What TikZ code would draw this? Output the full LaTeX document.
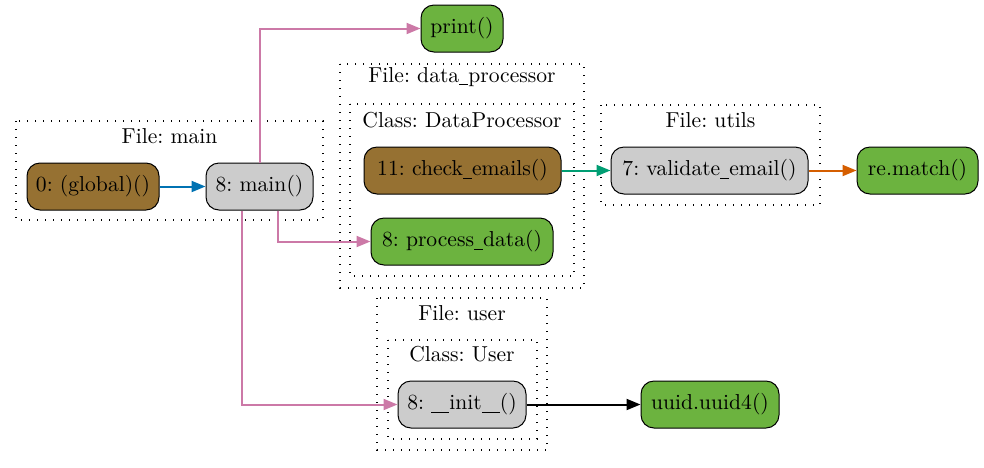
\documentclass[tikz,border=0pt]{standalone}
\usepackage{tikz}
\usetikzlibrary{arrows.meta}

\definecolor{fnbrown}{RGB}{150,113,50}
\definecolor{fngray}{RGB}{204,204,204}
\definecolor{fngreen}{RGB}{108,179,63}
\definecolor{edgeblue}{RGB}{0,114,178}
\definecolor{edgepink}{RGB}{204,121,167}
\definecolor{edgeteal}{RGB}{0,158,115}
\definecolor{edgeorange}{RGB}{213,94,0}

% narrow underscore
\newcommand{\usc}{\rule[-0.13em]{0.42em}{0.05em}}

\begin{document}
\frenchspacing
\begin{tikzpicture}[x=0.5pt,y=-0.5pt,
        font=\fontsize{10.8}{13}\selectfont,
        func/.style={draw=black,line width=0.5pt,rounded corners=6.5pt,
            minimum height=23.5pt,inner sep=2pt},
        cluster/.style={line width=0.6pt,dash pattern=on 0.6pt off 3.4pt},
        call/.style={line width=1pt,-{Triangle[length=7pt,width=5.5pt]}}]
    \useasboundingbox (0,0) rectangle (984,467);

    % clusters
    \draw[cluster] (16,121) rectangle (323,220);
    \node (lmain) at (169.5,136) {File: main};
    \draw[cluster] (340,64) rectangle (584,288);
    \node (ldata) at (462,77) {File: data\usc processor};
    \draw[cluster] (350,104) rectangle (574,276);
    \node (lclass) at (462,120) {Class: DataProcessor};
    \draw[cluster] (601,105) rectangle (820,205);
    \node (lutils) at (710.5,120) {File: utils};
    \draw[cluster] (377,298) rectangle (547,450);
    \node (luser) at (462,313) {File: user};
    \draw[cluster] (388,340) rectangle (537,439);
    \node (lclsuser) at (462,354) {Class: User};

    % functions
    \node[func,fill=fnbrown,minimum width=66pt] (global) at (93,186.5) {0: (global)()};
    \node[func,fill=fngray,minimum width=53.5pt] (main) at (259.5,186.5) {8: main()};
    \node[func,fill=fngreen,minimum width=41pt] (print) at (462,28.5) {print()};
    \node[func,fill=fnbrown,minimum width=98.5pt] (check) at (462.5,170.5) {11: check\usc emails()};
    \node[func,fill=fngreen,minimum width=91pt] (pdata) at (462,241.5) {8: process\usc data()};
    \node[func,fill=fngray,minimum width=98.5pt] (valid) at (709.5,170.5) {7: validate\usc email()};
    \node[func,fill=fngreen,minimum width=60.5pt] (rematch) at (917.5,170.5) {re.match()};
    \node[func,fill=fngray,minimum width=64pt] (init) at (462,404.5) {8: \usc\usc init\usc\usc()};
    \node[func,fill=fngreen,minimum width=69pt] (uuid) at (710,404.5) {uuid.uuid4()};

    % calls
    \draw[call,edgeblue] (global) -- (main);
    \draw[call,edgepink] (main.north) |- (print.west);
    \draw[call,edgepink] ([xshift=9pt]main.south) |- (pdata.west);
    \draw[call,edgepink] ([xshift=-9pt]main.south) |- (init.west);
    \draw[call,edgeteal] (check) -- (valid);
    \draw[call,edgeorange] (valid) -- (rematch);
    \draw[call,black] (init) -- (uuid);
\end{tikzpicture}
\end{document}
